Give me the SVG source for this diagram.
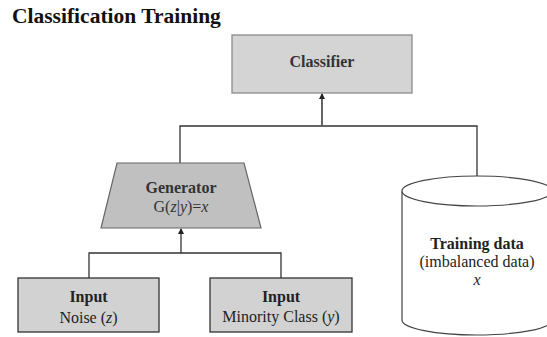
<svg xmlns="http://www.w3.org/2000/svg" width="547" height="337" viewBox="0 0 547 337">
  <defs>
    <marker id="arr" markerWidth="6" markerHeight="6" refX="5" refY="3" orient="auto" markerUnits="userSpaceOnUse">
      <path d="M0,0 L6,3 L0,6 Z" fill="#222"/>
    </marker>
  </defs>
  <style>
    text { font-family: "Liberation Serif", "Times New Roman", serif; text-anchor: middle; fill: #222; }
    .b { font-weight: bold; }
    .t16 { font-size: 16px; }
    .it { font-style: italic; }
    .line { fill: none; stroke: #333; stroke-width: 1.3; }
  </style>
  <rect width="547" height="337" fill="#ffffff"/>
  <text x="12" y="23" class="b" style="font-size:21.5px;text-anchor:start;fill:#111">Classification Training</text>

  <g id="connectors">
    <polyline class="line" points="180,163 180,126 477,126 477,176"/>
    <line class="line" x1="322" y1="126" x2="322" y2="94" style="stroke:#555;stroke-width:1.8" marker-end="url(#arr)"/>
    <polyline class="line" points="89,278 89,253 281,253 281,278"/>
    <line class="line" x1="181" y1="253" x2="181" y2="229" marker-end="url(#arr)"/>
  </g>

  <g id="classifier">
    <rect x="232" y="35" width="180" height="58" fill="#d4d4d4" stroke="#8a8a8a" stroke-width="1.3"/>
    <text x="322" y="67" class="b t16" style="fill:#333">Classifier</text>
  </g>

  <g id="generator">
    <polygon points="117,163 244,163 261,228 101,228" fill="#c0c0c0" stroke="#666" stroke-width="1.2"/>
    <text x="181" y="193" class="b t16" style="fill:#333">Generator</text>
    <text x="181" y="212" class="t16" style="fill:#333">G(<tspan class="it">z</tspan>|<tspan class="it">y</tspan>)=<tspan class="it">x</tspan></text>
  </g>

  <g id="input-noise">
    <rect x="18" y="278" width="141" height="54" fill="#d2d2d2" stroke="#333" stroke-width="1.3"/>
    <text x="88.5" y="302" class="b t16">Input</text>
    <text x="88.5" y="323" class="t16">Noise (<tspan class="it">z</tspan>)</text>
  </g>

  <g id="input-minority">
    <rect x="210" y="278" width="142" height="54" fill="#d2d2d2" stroke="#333" stroke-width="1.3"/>
    <text x="281" y="302" class="b t16">Input</text>
    <text x="281" y="322" class="t16">Minority Class (<tspan class="it">y</tspan>)</text>
  </g>

  <g id="training-data">
    <path d="M402,191 L402,320 A75,15 0 0 0 552,320 L552,191" fill="#fff" stroke="#444" stroke-width="1.2"/>
    <ellipse cx="477" cy="191" rx="75" ry="15" fill="#fff" stroke="#444" stroke-width="1.2"/>
    <text x="477" y="249" class="b t16">Training data</text>
    <text x="477" y="267" class="t16">(imbalanced data)</text>
    <text x="477" y="285" class="t16 it">x</text>
  </g>
</svg>
